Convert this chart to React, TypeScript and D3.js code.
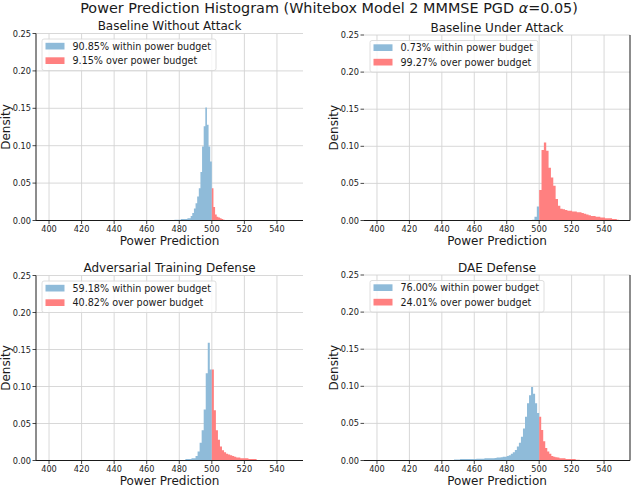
import React, { useEffect, useRef } from "react";
import * as d3 from "d3";

// ---------- data ----------
const mainTitle = "Power Prediction Histogram (Whitebox Model 2 MMMSE PGD ";
const mainTitleAlpha = "α";
const mainTitleTail = "=0.05)";
const panelTitles = [
  "Baseline Without Attack",
  "Baseline Under Attack",
  "Adversarial Training Defense",
  "DAE Defense",
];
const withinLabels = [
  "90.85% within power budget",
  "0.73% within power budget",
  "59.18% within power budget",
  "76.00% within power budget",
];
const overLabels = [
  "9.15% over power budget",
  "99.27% over power budget",
  "40.82% over power budget",
  "24.01% over power budget",
];
const powerBudget = 500;
const binWidths = [1.0, 1.45, 1.25, 1.25];
// densities of bins below the budget (ascending, last bin ends at the budget)
const withinDensity: number[][] = [
  [0.001, 0.001, 0.001, 0.001, 0.002, 0.002, 0.002, 0.002, 0.003, 0.003, 0.006, 0.010, 0.016, 0.023, 0.032, 0.043, 0.065, 0.099, 0.126, 0.151, 0.128, 0.099, 0.079],
  [0.001, 0.005, 0.019],
  [0.002, 0.002, 0.002, 0.003, 0.003, 0.006, 0.012, 0.024, 0.041, 0.069, 0.118, 0.159, 0.123],
  [0.0015, 0.0015, 0.0015, 0.002, 0.002, 0.002, 0.002, 0.002, 0.002, 0.002, 0.002, 0.0025, 0.0025, 0.0025, 0.0025, 0.003, 0.003,
   0.003, 0.003, 0.003, 0.0035, 0.004, 0.004, 0.0045, 0.005, 0.005, 0.006, 0.007, 0.009, 0.011, 0.014, 0.019, 0.024, 0.032,
   0.043, 0.059, 0.077, 0.088, 0.099, 0.090, 0.077, 0.064],
];
// densities of bins above the budget (ascending, first bin starts at the budget)
const overDensity: number[][] = [
  [0.043, 0.018, 0.008, 0.005, 0.004, 0.003, 0.002, 0.001],
  [0.041, 0.095, 0.105, 0.094, 0.071, 0.058, 0.047, 0.029, 0.020, 0.016, 0.015, 0.014, 0.013, 0.013, 0.012, 0.012, 0.011,
   0.011, 0.010, 0.009, 0.008, 0.007, 0.006, 0.006, 0.005, 0.005, 0.004, 0.004, 0.003, 0.003, 0.003, 0.002, 0.002, 0.001],
  [0.123, 0.068, 0.041, 0.028, 0.019, 0.014, 0.011, 0.009, 0.008, 0.007, 0.006, 0.005, 0.004, 0.004, 0.003, 0.003, 0.003,
   0.003, 0.002, 0.002, 0.002, 0.002],
  [0.059, 0.041, 0.026, 0.017, 0.012, 0.009, 0.006, 0.005, 0.0045, 0.004, 0.003, 0.003, 0.003, 0.002, 0.002, 0.002, 0.002,
   0.002, 0.001, 0.001],
];
const xTicks = [400, 420, 440, 460, 480, 500, 520, 540];
const yTicks = [0, 0.05, 0.1, 0.15, 0.2, 0.25];
const xDomain: [number, number] = [392, 556];
const yDomain: [number, number] = [0, 0.25];
const xLabel = "Power Prediction";
const yLabel = "Density";

// ---------- layout / style ----------
const W = 634;
const H = 488;
const FONT = "DejaVu Sans, sans-serif";
const layout = [
  { left: 36, right: 303, top: 33.5, bottom: 220.5, side: "left" },
  { left: 364, right: 630, top: 35, bottom: 220.5, side: "right" },
  { left: 36, right: 303, top: 275.5, bottom: 460.5, side: "left" },
  { left: 364, right: 630, top: 275, bottom: 460.5, side: "right" },
];
const BLUE = "#8fbbd9";
const RED = "#ff8080";
const GRID = "#d4d4d4";
const INK = "#1a1a1a";

export default function App() {
  const ref = useRef<SVGSVGElement>(null);

  useEffect(() => {
    const svg = d3.select(ref.current!);
    svg.selectAll("*").remove();

    svg
      .append("text")
      .attr("x", 329)
      .attr("y", 13)
      .attr("text-anchor", "middle")
      .attr("font-family", FONT)
      .attr("font-size", 14.4)
      .attr("fill", INK)
      .call((t) => {
        t.append("tspan").text(mainTitle);
        t.append("tspan").attr("font-style", "italic").text(mainTitleAlpha);
        t.append("tspan").text(mainTitleTail);
      });

    layout.forEach((L, i) => {
      const g = svg.append("g");
      const x = d3.scaleLinear().domain(xDomain).range([L.left, L.right]);
      const y = d3.scaleLinear().domain(yDomain).range([L.bottom, L.top]);
      const w = binWidths[i];

      // grid
      g.selectAll(".vg")
        .data(xTicks)
        .join("line")
        .attr("x1", (d) => x(d))
        .attr("x2", (d) => x(d))
        .attr("y1", L.top)
        .attr("y2", L.bottom)
        .attr("stroke", GRID)
        .attr("stroke-width", 0.9);
      g.selectAll(".hg")
        .data(yTicks)
        .join("line")
        .attr("x1", L.left)
        .attr("x2", L.right)
        .attr("y1", (d) => y(d))
        .attr("y2", (d) => y(d))
        .attr("stroke", GRID)
        .attr("stroke-width", 0.9);

      // histogram paths
      const barsPath = (vals: number[], start: number) => {
        const p = d3.path();
        vals.forEach((v, k) => {
          if (v <= 0) return;
          const x0 = x(start + k * w);
          const x1 = x(start + (k + 1) * w);
          p.rect(x0, y(v), x1 - x0, y(0) - y(v));
        });
        return p.toString();
      };
      const within = withinDensity[i];
      g.append("path")
        .attr("d", barsPath(within, powerBudget - within.length * w))
        .attr("fill", BLUE);
      g.append("path")
        .attr("d", barsPath(overDensity[i], powerBudget))
        .attr("fill", RED);

      // spines
      g.append("line")
        .attr("x1", L.left)
        .attr("x2", L.right)
        .attr("y1", L.bottom)
        .attr("y2", L.bottom)
        .attr("stroke", INK)
        .attr("stroke-width", 1);
      const sx = L.side === "left" ? L.left : L.right;
      g.append("line")
        .attr("x1", sx)
        .attr("x2", sx)
        .attr("y1", L.top)
        .attr("y2", L.bottom)
        .attr("stroke", INK)
        .attr("stroke-width", 1);

      // x ticks
      g.selectAll(".xt")
        .data(xTicks)
        .join("line")
        .attr("x1", (d) => x(d))
        .attr("x2", (d) => x(d))
        .attr("y1", L.bottom)
        .attr("y2", L.bottom + 3.5)
        .attr("stroke", INK)
        .attr("stroke-width", 0.8);
      g.selectAll(".xl")
        .data(xTicks)
        .join("text")
        .attr("x", (d) => x(d))
        .attr("y", L.bottom + 11)
        .attr("text-anchor", "middle")
        .attr("font-family", FONT)
        .attr("font-size", 8.2)
        .attr("fill", INK)
        .text((d) => String(d));

      // y ticks
      g.selectAll(".yt")
        .data(yTicks)
        .join("line")
        .attr("x1", L.left - 3.5)
        .attr("x2", L.left)
        .attr("y1", (d) => y(d))
        .attr("y2", (d) => y(d))
        .attr("stroke", INK)
        .attr("stroke-width", 0.8);
      g.selectAll(".yl")
        .data(yTicks)
        .join("text")
        .attr("x", L.left - 5)
        .attr("y", (d) => y(d) + 3)
        .attr("text-anchor", "end")
        .attr("font-family", FONT)
        .attr("font-size", 8.2)
        .attr("fill", INK)
        .text((d) => d3.format(".2f")(d));

      // labels
      const cx = (L.left + L.right) / 2;
      g.append("text")
        .attr("x", cx)
        .attr("y", L.top - 3.5)
        .attr("text-anchor", "middle")
        .attr("font-family", FONT)
        .attr("font-size", 12)
        .attr("fill", INK)
        .text(panelTitles[i]);
      g.append("text")
        .attr("x", cx)
        .attr("y", L.bottom + 24.5)
        .attr("text-anchor", "middle")
        .attr("font-family", FONT)
        .attr("font-size", 12)
        .attr("fill", INK)
        .text(xLabel);
      const ylx = L.side === "left" ? 10 : 338;
      const cy = (L.top + L.bottom) / 2;
      g.append("text")
        .attr("transform", `translate(${ylx},${cy}) rotate(-90)`)
        .attr("text-anchor", "middle")
        .attr("font-family", FONT)
        .attr("font-size", 12)
        .attr("fill", INK)
        .text(yLabel);

      // legend
      const lg = g.append("g").attr("transform", `translate(${L.left + 6},${L.top + 5.5})`);
      const box = lg
        .append("rect")
        .attr("x", 0)
        .attr("y", 0)
        .attr("height", 31.5)
        .attr("rx", 2)
        .attr("fill", "white")
        .attr("fill-opacity", 0.8)
        .attr("stroke", "#d6d6d6")
        .attr("stroke-width", 0.8);
      const entries = [
        { label: withinLabels[i], color: BLUE },
        { label: overLabels[i], color: RED },
      ];
      let maxLen = 0;
      entries.forEach((e, k) => {
        lg.append("rect")
          .attr("x", 3.5)
          .attr("y", 3.8 + k * 14.5)
          .attr("width", 19)
          .attr("height", 6.7)
          .attr("fill", e.color);
        const t = lg
          .append("text")
          .attr("x", 30.5)
          .attr("y", 10.5 + k * 14.5)
          .attr("font-family", FONT)
          .attr("font-size", 9.6)
          .attr("fill", INK)
          .text(e.label);
        const len = (t.node() as SVGTextElement).getComputedTextLength();
        maxLen = Math.max(maxLen, len);
      });
      box.attr("width", 30.5 + maxLen + 5);
    });
  }, []);

  return (
    <svg
      ref={ref}
      width={W}
      height={H}
      style={{ position: "absolute", left: 0, top: 0, background: "white" }}
    />
  );
}
